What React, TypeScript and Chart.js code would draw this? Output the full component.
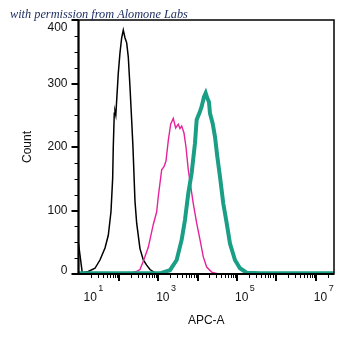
import React, { useEffect, useRef } from 'react';
import { Chart, registerables } from 'chart.js';

Chart.register(...registerables);

// Axis ranges
const xMin = 9.5;
const xMax = 2.9e7;
const yMin = 0;
const yMax = 400;
const yStep = 25;
const xLabelExponents = [1, 3, 5, 7];
const yLabelValues = [0, 100, 200, 300, 400];

const captionText = 'with permission from Alomone Labs';
const xTitle = 'APC-A';
const yTitle = 'Count';

// Control (black)
const blackX = [9.5, 11.85, 16.8, 24.9, 33.3, 44.7, 54.2, 63.4, 70.0, 72.5, 76.9, 80.1, 84.0, 97.1, 107.2, 118.5, 130.1, 143.6, 158.7, 174.2, 192.4, 212.4, 229.1, 257.6, 284.6, 345.1, 418.8, 510.5, 619.4, 782.3, 988.4, 3000, 2.9e7];
const blackY = [48, 2, 4, 9, 22, 41, 61, 98, 151, 200, 253, 256, 250, 316, 348, 372, 384, 372, 364, 342, 295, 242, 200, 115, 80, 40, 22, 14, 7, 3, 0, 0, 0];

// Pink
const pinkX = [9.5, 158.7, 284.6, 345.1, 418.8, 561.0, 751.6, 916.4, 1005.8, 1227, 1403, 1577, 1804, 2075, 2416, 2780, 3236, 3573, 3950, 4519, 5079, 5808, 6413, 7780, 9487, 11508, 13958, 17022, 22796, 33497, 2.9e7];
const pinkY = [0, 0, 4, 7, 20, 42, 78, 98, 122, 164, 169, 178, 210, 236, 245, 230, 236, 229, 233, 222, 200, 164, 146, 111, 80, 54, 27, 11, 3, 0, 0];

// Teal (thick)
const tealX = [9.5, 1111, 1992, 2948, 3950, 4786, 5808, 7080, 8590, 9487, 11508, 12710, 14535, 16055, 17623, 19454, 20630, 24155, 27669, 31650, 37065, 44920, 54790, 66440, 88920, 119100, 176300, 383700, 2.9e7];
const tealY = [1, 1, 6, 22, 54, 85, 127, 159, 206, 243, 256, 264, 279, 285, 277, 271, 253, 237, 216, 185, 153, 111, 80, 48, 22, 9, 2, 1, 1];

const toPoints = (xs: number[], ys: number[]) => xs.map((x, i) => ({ x, y: ys[i] }));

export default function App() {
  const ref = useRef<HTMLCanvasElement>(null);

  useEffect(() => {
    const canvas = ref.current;
    if (!canvas) return;

    const framePlugin = {
      id: 'flowFrame',
      afterDraw(chart: any) {
        const { ctx, chartArea: a, scales } = chart;
        const xs = scales.x;
        const ys = scales.y;
        ctx.save();
        ctx.strokeStyle = '#000';
        ctx.fillStyle = '#111';

        // x ticks
        xs.ticks.forEach((t: any) => {
          const v = t.value;
          const e = Math.log10(v);
          const major = Math.abs(e - Math.round(e)) < 1e-6;
          const px = xs.getPixelForValue(v);
          if (px < a.left + 1 || px > a.right) return;
          ctx.lineWidth = major ? 2 : 1;
          const x = major ? Math.round(px) : Math.round(px) + 0.5;
          ctx.beginPath();
          ctx.moveTo(x, a.bottom);
          ctx.lineTo(x, a.bottom + (major ? 7 : 4));
          ctx.stroke();
        });

        // y ticks
        ys.ticks.forEach((t: any) => {
          const v = t.value;
          const major = v % 100 === 0;
          const py = ys.getPixelForValue(v);
          ctx.lineWidth = major ? 2 : 1;
          const y = major ? Math.round(py) : Math.round(py) + 0.5;
          ctx.beginPath();
          ctx.moveTo(a.left, y);
          ctx.lineTo(a.left - (major ? 7 : 4), y);
          ctx.stroke();
        });

        // frame
        ctx.lineWidth = 1.5;
        ctx.strokeRect(a.left, a.top, a.right - a.left, a.bottom - a.top);
        ctx.lineWidth = 2;
        ctx.beginPath();
        ctx.moveTo(a.left, a.top);
        ctx.lineTo(a.left, a.bottom);
        ctx.lineTo(a.right, a.bottom);
        ctx.stroke();

        // y labels
        ctx.font = '12px "Liberation Sans", Arial, sans-serif';
        ctx.textAlign = 'right';
        ctx.textBaseline = 'middle';
        yLabelValues.forEach((v) => {
          const py = ys.getPixelForValue(v);
          const y = Math.min(Math.max(py, a.top + 8), a.bottom - 3);
          ctx.fillText(String(v), a.left - 11, y);
        });

        // x labels (10 with superscript exponent)
        ctx.textAlign = 'left';
        xLabelExponents.forEach((n) => {
          const px = xs.getPixelForValue(Math.pow(10, n));
          const start = Math.max(px - 2, a.left + 5);
          ctx.font = '12px "Liberation Sans", Arial, sans-serif';
          ctx.fillText('10', start, a.bottom + 24);
          const w = ctx.measureText('10').width;
          ctx.font = '9px "Liberation Sans", Arial, sans-serif';
          ctx.fillText(String(n), start + w + 1.5, a.bottom + 15);
        });

        // caption
        ctx.font = 'italic 12.3px "Liberation Serif", "DejaVu Serif", serif';
        ctx.fillStyle = '#1f2f63';
        ctx.textBaseline = 'alphabetic';
        ctx.fillText(captionText, 10, 18);
        ctx.restore();
      },
    };

    const chart = new Chart(canvas, {
      type: 'line',
      data: {
        datasets: [
          {
            label: 'control',
            data: toPoints(blackX, blackY),
            borderColor: '#000000',
            borderWidth: 1.5,
            pointRadius: 0,
            tension: 0,
            fill: false,
            order: 3,
          },
          {
            label: 'pink',
            data: toPoints(pinkX, pinkY),
            borderColor: '#e5239a',
            borderWidth: 1.4,
            pointRadius: 0,
            tension: 0,
            fill: false,
            order: 2,
          },
          {
            label: 'teal',
            data: toPoints(tealX, tealY),
            borderColor: '#1a9e85',
            borderWidth: 4,
            pointRadius: 0,
            tension: 0,
            fill: false,
            order: 1,
          },
        ],
      },
      options: {
        responsive: false,
        animation: false,
        devicePixelRatio: 1,
        layout: { padding: { left: 10, right: 21, top: 20, bottom: 0 } },
        plugins: {
          legend: { display: false },
          tooltip: { enabled: false },
          title: { display: false },
        },
        scales: {
          x: {
            type: 'logarithmic',
            min: xMin,
            max: xMax,
            grid: { display: false },
            border: { display: false },
            ticks: { display: false },
            afterBuildTicks: (scale: any) => {
              const ticks: any[] = [];
              for (let n = 0; n <= 7; n++) {
                for (let k = 1; k <= 9; k++) {
                  const v = k * Math.pow(10, n);
                  if (v >= xMin && v <= xMax) ticks.push({ value: v });
                }
              }
              scale.ticks = ticks;
            },
            afterFit: (scale: any) => {
              scale.height = 74;
            },
            title: {
              display: true,
              text: xTitle,
              color: '#111',
              font: { family: '"Liberation Sans", Arial, sans-serif', size: 12 },
              padding: { top: 0, bottom: 19.8 },
            },
          },
          y: {
            type: 'linear',
            min: yMin,
            max: yMax,
            grid: { display: false },
            border: { display: false },
            ticks: { display: false, stepSize: yStep },
            afterFit: (scale: any) => {
              scale.width = 68.5;
            },
            title: {
              display: true,
              text: yTitle,
              color: '#111',
              font: { family: '"Liberation Sans", Arial, sans-serif', size: 12 },
              padding: 10,
            },
          },
        },
      },
      plugins: [framePlugin],
    });

    return () => chart.destroy();
  }, []);

  return (
    <div style={{ position: 'fixed', left: 0, top: 0, width: 355, height: 348, background: '#fff' }}>
      <canvas ref={ref} width={355} height={348} style={{ width: 355, height: 348 }} />
    </div>
  );
}
